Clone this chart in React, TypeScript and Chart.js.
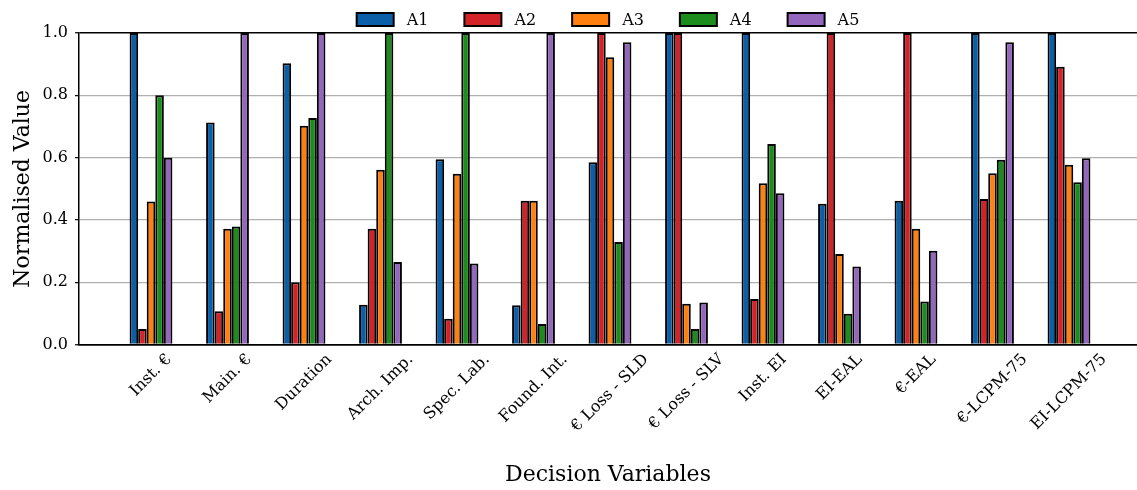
import React, { useEffect, useRef } from "react";
import { Chart, registerables } from "chart.js";

Chart.register(...registerables);

const categories = [
  "Inst. €",
  "Main. €",
  "Duration",
  "Arch. Imp.",
  "Spec. Lab.",
  "Found. Int.",
  "€ Loss - SLD",
  "€ Loss - SLV",
  "Inst. EI",
  "EI-EAL",
  "€-EAL",
  "€-LCPM-75",
  "EI-LCPM-75",
];

const seriesNames = ["A1", "A2", "A3", "A4", "A5"];

const A1 = [1.0, 0.713, 0.903, 0.128, 0.595, 0.126, 0.585, 1.0, 1.0, 0.452, 0.462, 1.0, 1.0];
const A2 = [0.05, 0.107, 0.2, 0.372, 0.083, 0.462, 1.0, 1.0, 0.146, 1.0, 1.0, 0.467, 0.892];
const A3 = [0.459, 0.372, 0.702, 0.561, 0.548, 0.462, 0.922, 0.131, 0.518, 0.291, 0.372, 0.55, 0.577];
const A4 = [0.8, 0.379, 0.727, 1.0, 1.0, 0.066, 0.329, 0.05, 0.644, 0.099, 0.138, 0.593, 0.521];
const A5 = [0.6, 1.0, 1.0, 0.265, 0.26, 1.0, 0.97, 0.135, 0.486, 0.251, 0.301, 0.97, 0.598];

const yTicks = [0, 0.2, 0.4, 0.6, 0.8, 1.0];

const seriesValues = [A1, A2, A3, A4, A5];
const colors = ["#0b5fa8", "#d42229", "#ff800e", "#1c8c1c", "#9467bd"];

const FONT = '"DejaVu Serif", serif';

const customPlugin = {
  id: "customDecor",
  afterDraw(chart: any) {
    const ctx = chart.ctx as CanvasRenderingContext2D;
    const xScale = chart.scales.x;
    const area = chart.chartArea;
    ctx.save();
    // x tick labels rotated 45°, centred on tick (matplotlib ha=center)
    ctx.font = `16px ${FONT}`;
    ctx.fillStyle = "#000";
    ctx.textAlign = "center";
    ctx.textBaseline = "middle";
    const top = area.bottom + 6;
    const H = 18;
    categories.forEach((label, i) => {
      const x = xScale.getPixelForValue(i);
      const W = ctx.measureText(label).width;
      const half = (W + H) / (2 * Math.SQRT2);
      ctx.save();
      ctx.translate(x, top + half);
      ctx.rotate(-Math.PI / 4);
      ctx.fillText(label, 0, 0);
      ctx.restore();
    });
    // legend
    const boxW = 37;
    const boxH = 13;
    const gapText = 13;
    const gapItem = 36;
    const widths = chart.data.datasets.map(
      (d: any) => boxW + gapText + ctx.measureText(d.label).width
    );
    const total = widths.reduce((a: number, b: number) => a + b, 0) + gapItem * (widths.length - 1);
    let x = (area.left + area.right) / 2 - total / 2;
    const boxTop = 13;
    ctx.textAlign = "left";
    chart.data.datasets.forEach((d: any, i: number) => {
      ctx.fillStyle = d.backgroundColor;
      ctx.fillRect(x, boxTop, boxW, boxH);
      ctx.strokeStyle = "#000";
      ctx.lineWidth = 2;
      ctx.strokeRect(x, boxTop, boxW, boxH);
      ctx.fillStyle = "#000";
      ctx.fillText(d.label, x + boxW + gapText, boxTop + boxH / 2 + 1);
      x += widths[i] + gapItem;
    });
    ctx.restore();
  },
};

export default function App() {
  const canvasRef = useRef<HTMLCanvasElement | null>(null);

  useEffect(() => {
    if (!canvasRef.current) return;
    Chart.defaults.font.family = FONT;
    Chart.defaults.color = "#000";
    const isEdge = (v: number) => Math.abs(v) < 1e-9 || Math.abs(v - 1) < 1e-9;
    const chart = new Chart(canvasRef.current, {
      type: "bar",
      data: {
        datasets: seriesNames.map((name, k) => ({
          label: name,
          data: seriesValues[k].map((v, i) => ({ x: i, y: v })),
          backgroundColor: colors[k],
          borderColor: "#000",
          borderWidth: 2,
          categoryPercentage: 0.63,
          barPercentage: 1.0,
        })),
      },
      options: {
        animation: false,
        responsive: true,
        maintainAspectRatio: false,
        layout: { padding: { top: 33, left: 0, right: 0, bottom: 0 } },
        plugins: {
          legend: { display: false },
          tooltip: { enabled: false },
        },
        scales: {
          x: {
            type: "linear",
            offset: false,
            min: -0.9412,
            max: 12.889,
            ticks: { display: false },
            grid: { display: false, drawTicks: false },
            border: { display: true, color: "#000", width: 1.5 },
            title: {
              display: true,
              text: "Decision Variables",
              font: { size: 22, family: FONT },
              color: "#000",
              padding: { top: 117, bottom: 2 },
            },
          },
          y: {
            min: 0,
            max: 1,
            afterBuildTicks: (scale: any) => {
              scale.ticks = yTicks.map((v) => ({ value: v }));
            },
            afterFit: (scale: any) => {
              scale.width = 79;
            },
            ticks: {
              font: { size: 16, family: FONT },
              color: "#000",
              padding: 7,
              callback: (v: any) => Number(v).toFixed(1),
            },
            grid: {
              color: (c: any) => (isEdge(c.tick.value) ? "#000" : "#b0b0b0"),
              lineWidth: (c: any) => (isEdge(c.tick.value) ? 1.5 : 1.3),
              tickColor: "#000",
              tickLength: 4,
              tickWidth: 1.2,
            },
            border: { display: true, color: "#000", width: 1.5 },
            title: {
              display: true,
              text: "Normalised Value",
              font: { size: 22, family: FONT },
              color: "#000",
              padding: { top: 10, bottom: 0 },
            },
          },
        },
      },
      plugins: [customPlugin],
    });
    return () => chart.destroy();
  }, []);

  return (
    <div style={{ position: "absolute", left: 0, top: 0, width: 1137, height: 490 }}>
      <canvas ref={canvasRef} />
    </div>
  );
}
